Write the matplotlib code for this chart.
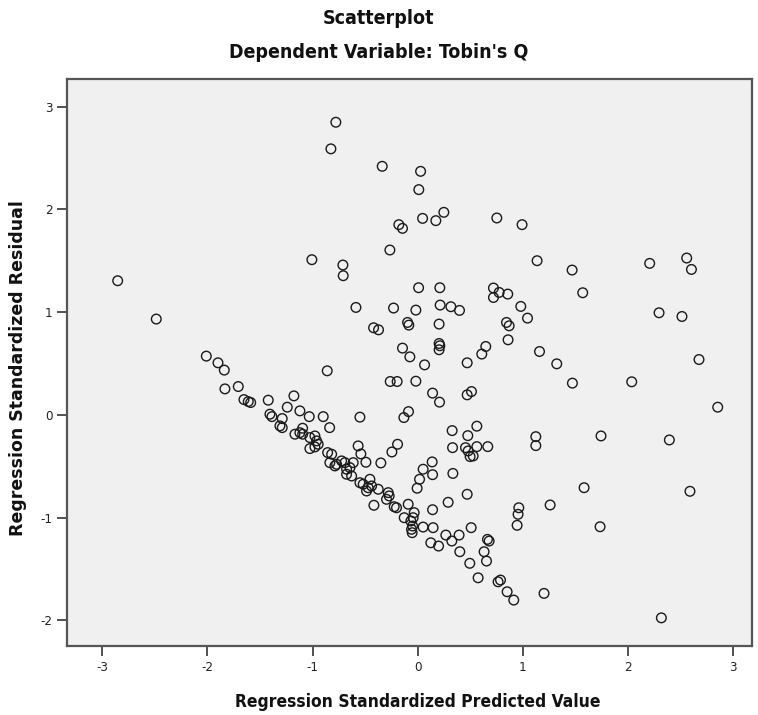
import matplotlib
matplotlib.use("Agg")
import matplotlib.pyplot as plt
from matplotlib import font_manager

plt.rcParams['axes.unicode_minus'] = False

# Regression standardized predicted value (x) and residual (y)
pred = [
    -0.778, -0.825, -0.337, 0.028, 0.011, -1.006, -0.711, -0.708, -0.264, -0.179,
    -0.144, 0.047, 0.173, 0.249, 0.753, 0.993, 1.136, 1.469, 2.207, 2.559,
    2.604, -2.853, -2.486, -2.010, -1.899, -1.839, -1.833, -1.706, -1.652, -1.611,
    -1.588, -1.421, -1.177, -1.240, -1.120, -1.031, -1.405, -1.386, -1.288, -1.310,
    -1.288, -1.167, -1.120, -1.094, -1.094, -1.025, -1.025,
    0.009, 0.211, 0.721, 0.775, 0.721, 0.857, 0.981, 1.045, -0.587, -0.229,
    -0.017, 0.214, 0.316, 0.398, -0.419, -0.372, -0.096, -0.084, 0.204, 0.845,
    0.870, 0.860, -0.144, -0.074, 0.204, 0.211, 0.204, 0.648, 0.610, 0.471,
    0.066, -0.860, -0.261, -0.195, -0.017, 0.142, 0.208, 0.471, 0.512, -0.087,
    -0.131, -0.549, -0.898, -0.837, -0.977, -0.961, -0.977, -0.946, -0.566, -0.540,
    -0.492, -0.350, -0.245, -0.191, -0.856, -0.818, -0.835, -0.771, -0.723, -0.692,
    -0.613, -0.644, 0.328, 0.477, 0.563, 0.332, 0.455, 0.480, 0.528, 0.499,
    0.563, 0.667, 0.052, 0.138, 0.335,
    1.570, 2.296, 2.514, 1.159, 1.323, 1.472, 2.036, 2.676, 2.854, 1.124,
    1.124, 1.744, 2.394,
    -0.787, -0.676, -0.628, -0.676, 0.018, -0.005, 0.142, 0.471, 0.290, -0.549,
    -0.518, -0.454, -0.471, -0.438, -0.375, -0.486, -0.416, -0.280, -0.271, -0.296,
    -0.223, -0.201, -0.090, -0.128, -0.033, -0.043, -0.065, -0.048, -0.052, -0.058,
    0.052, 0.142, 0.147, 0.125, 0.199, 0.268, 0.325, 0.394, 0.509, 0.401,
    0.496, 0.575, 0.664, 0.680, 0.632, 0.655, 0.765, 0.788, 0.851, 0.914,
    0.962, 0.955, 0.946,
    1.260, 1.583, 1.735, 2.590, 1.202, 2.318,
]
resid = [
    2.849, 2.590, 2.420, 2.371, 2.193, 1.511, 1.459, 1.355, 1.605, 1.852,
    1.816, 1.913, 1.891, 1.972, 1.917, 1.852, 1.501, 1.410, 1.475, 1.527,
    1.416, 1.306, 0.933, 0.572, 0.507, 0.436, 0.253, 0.276, 0.149, 0.130,
    0.120, 0.143, 0.185, 0.075, 0.039, -0.017, 0.007, -0.017, -0.036, -0.107,
    -0.124, -0.188, -0.173, -0.130, -0.188, -0.221, -0.328,
    1.238, 1.238, 1.235, 1.192, 1.143, 1.176, 1.056, 0.942, 1.046, 1.040,
    1.020, 1.069, 1.053, 1.017, 0.848, 0.828, 0.900, 0.874, 0.884, 0.900,
    0.867, 0.731, 0.650, 0.565, 0.695, 0.673, 0.634, 0.666, 0.592, 0.507,
    0.487, 0.429, 0.325, 0.325, 0.328, 0.212, 0.124, 0.195, 0.227, 0.032,
    -0.026, -0.022, -0.017, -0.124, -0.205, -0.253, -0.312, -0.286, -0.302, -0.380,
    -0.461, -0.468, -0.361, -0.286, -0.367, -0.383, -0.465, -0.481, -0.448, -0.465,
    -0.465, -0.514, -0.153, -0.202, -0.110, -0.319, -0.319, -0.351, -0.400, -0.406,
    -0.309, -0.309, -0.529, -0.458, -0.570,
    1.189, 0.994, 0.958, 0.617, 0.497, 0.309, 0.322, 0.539, 0.075, -0.212,
    -0.299, -0.205, -0.244,
    -0.497, -0.529, -0.595, -0.578, -0.627, -0.714, -0.582, -0.773, -0.851, -0.660,
    -0.675, -0.627, -0.709, -0.692, -0.724, -0.741, -0.880, -0.757, -0.789, -0.822,
    -0.894, -0.904, -0.870, -1.001, -0.952, -1.001, -1.033, -1.082, -1.147, -1.114,
    -1.092, -0.923, -1.098, -1.245, -1.277, -1.170, -1.228, -1.170, -1.098, -1.332,
    -1.445, -1.586, -1.212, -1.228, -1.332, -1.423, -1.625, -1.608, -1.722, -1.803,
    -0.904, -0.968, -1.075,
    -0.877, -0.709, -1.089, -0.744, -1.738, -1.976,
]

x_ticks = [-3, -2, -1, 0, 1, 2, 3]
y_ticks = [-2, -1, 0, 1, 2, 3]

title_main = "Scatterplot"
title_sub = "Dependent Variable: Tobin's Q"
x_label = "Regression Standardized Predicted Value"
y_label = "Regression Standardized Residual"

cond_fonts = [f for f in font_manager.fontManager.ttflist
              if ('ondensed' in str(f.stretch)) or ('Narrow' in f.name) or ('Condensed' in f.name)]

def cprops(size, bold=True):
    if cond_fonts:
        fam = cond_fonts[0].name
        return dict(family=fam, fontstretch='condensed', fontweight='bold' if bold else 'normal', fontsize=size)
    return dict(family='DejaVu Sans', fontweight='bold' if bold else 'normal', fontsize=size)

fig = plt.figure(figsize=(7.58, 7.15), dpi=100)
ax = fig.add_axes([67/758, 69/715, 685/758, 567/715])
ax.set_facecolor('#F0F0F0')
ax.scatter(pred, resid, s=48, facecolors='none', edgecolors='#1a1a1a', linewidths=1.0, zorder=3)

ax.set_xlim(-3.335, 3.18)
ax.set_ylim(-2.25, 3.27)
ax.set_xticks(x_ticks)
ax.set_yticks(y_ticks)
tp = cprops(9.5, bold=False)
ax.set_xticklabels([str(v) for v in x_ticks], **tp)
ax.set_yticklabels([str(v) for v in y_ticks], **tp)
ax.tick_params(axis='both', direction='out', length=7, width=1.2, color='#333333', labelcolor='#222222')
for sp in ax.spines.values():
    sp.set_color('#555555')
    sp.set_linewidth(1.6)

hp = cprops(14)
fig.text(0.5, 1 - 18/715, title_main, ha='center', va='center', color='#111111', **hp)
fig.text(0.5, 1 - 53/715, title_sub, ha='center', va='center', color='#111111', **hp)
fig.text(418/758, 1 - 702/715, x_label, ha='center', va='center', color='#111111', **cprops(12.5))
fig.text(18/758, 1 - 368/715, y_label, ha='center', va='center', rotation=90,
         family='DejaVu Sans', fontweight='bold', fontsize=12.5, color='#111111')

fig.savefig('out.png', dpi=100, facecolor='white')
